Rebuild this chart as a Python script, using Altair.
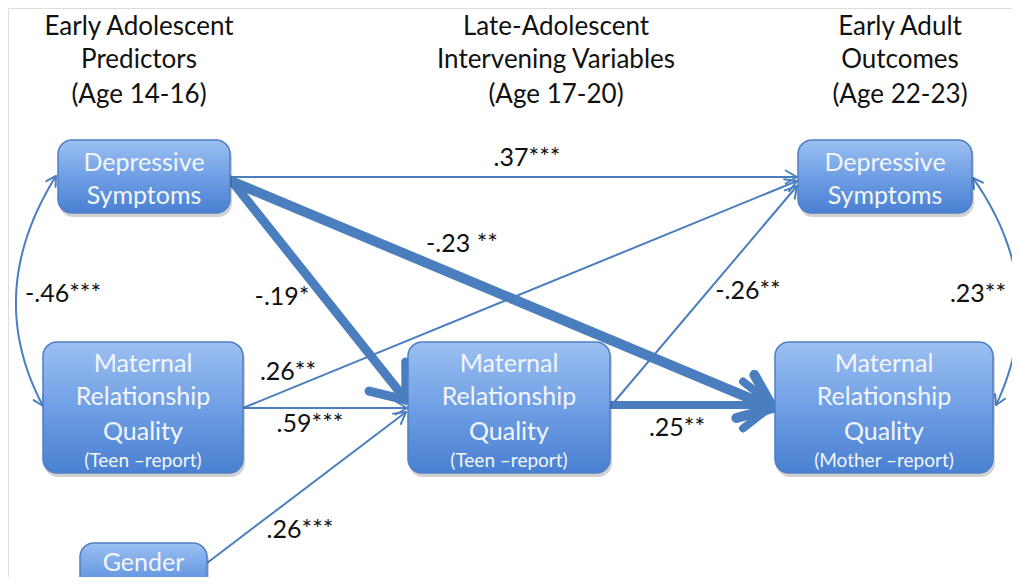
import math
import altair as alt
import pandas as pd

# ---------------- data ----------------
header_x = [139, 556, 900]
header_text = [
    ["Early Adolescent", "Predictors", "(Age 14-16)"],
    ["Late-Adolescent", "Intervening Variables", "(Age 17-20)"],
    ["Early Adult", "Outcomes", "(Age 22-23)"],
]
header_y = [27, 60, 95]

node_id = ["DS14", "MRQ14", "GEN", "MRQ17", "DS22", "MRQ22"]
node_lines = [
    ["Depressive", "Symptoms"],
    ["Maternal", "Relationship", "Quality"],
    ["Gender"],
    ["Maternal", "Relationship", "Quality"],
    ["Depressive", "Symptoms"],
    ["Maternal", "Relationship", "Quality"],
]
node_sub = ["", "(Teen \u2013report)", "", "(Teen \u2013report)", "", "(Mother \u2013report)"]

edge_from = ["DS14", "DS14", "DS14", "MRQ14", "MRQ14", "GEN", "MRQ17", "MRQ17"]
edge_to = ["DS22", "MRQ17", "MRQ22", "DS22", "MRQ17", "MRQ17", "DS22", "MRQ22"]
edge_coef = [".37***", "-.19*", "-.23 **", ".26**", ".59***", ".26***", "-.26**", ".25**"]
edge_strong = [False, True, True, False, False, False, False, True]

corr_between = [("DS14", "MRQ14"), ("DS22", "MRQ22")]
corr_coef = ["-.46***", ".23**"]

# ---------------- layout (pixel positions) ----------------
node_x0 = [58, 43, 80, 408, 798, 775]
node_x1 = [230, 243, 207, 610, 972, 993]
node_y0 = [140, 342, 543, 342, 140, 342]
node_y1 = [213, 473, 600, 473, 213, 473]
node_line_y = [[163, 196], [364, 397, 432], [563], [364, 397, 432], [163, 196], [364, 397, 432]]
node_sub_y = 461

edge_x1 = [231, 231, 231, 243, 243, 207, 610, 610]
edge_y1 = [177, 180, 181, 408, 408, 563, 407, 405]
edge_x2 = [797, 406, 773, 797, 407, 406, 797, 773]
edge_y2 = [177, 400, 408, 181, 408, 412, 186, 405]
edge_w = [2, 9, 10, 2, 2, 2, 2, 8]
label_x = [527, 282, 462, 288, 310, 300, 748, 677]
label_y = [158, 297, 244, 372, 424, 530, 291, 428]

corr_p0 = [(56, 176), (973, 178)]
corr_ctrl = [(-17, 293), (1051, 289)]
corr_p2 = [(43, 406), (996, 405)]
corr_label = [(63, 294), (978, 294)]

LINE = "#4a7ebf"
FONT = "Lato"

# ---------------- build tables ----------------
rows_seg = []  # line segments (shafts and arrowhead legs)


def head(tipx, tipy, dx, dy, length, ang, w):
    a = math.atan2(-dy, -dx)
    for s in (-1, 1):
        b = a + s * math.radians(ang)
        rows_seg.append(dict(x=tipx, y=tipy, x2=tipx + length * math.cos(b),
                             y2=tipy + length * math.sin(b), w=w))


for i in range(len(edge_from)):
    rows_seg.append(dict(x=edge_x1[i], y=edge_y1[i], x2=edge_x2[i], y2=edge_y2[i], w=edge_w[i]))
    dx = edge_x2[i] - edge_x1[i]
    dy = edge_y2[i] - edge_y1[i]
    if edge_strong[i]:
        head(edge_x2[i], edge_y2[i], dx, dy, 38, 38, edge_w[i])
    else:
        head(edge_x2[i], edge_y2[i], dx, dy, 13, 30, 2)

rows_curve = []
for k in range(len(corr_coef)):
    (x0, y0), (cx, cy), (x2, y2) = corr_p0[k], corr_ctrl[k], corr_p2[k]
    n = 60
    for j in range(n + 1):
        t = j / n
        px = (1 - t) ** 2 * x0 + 2 * (1 - t) * t * cx + t * t * x2
        py = (1 - t) ** 2 * y0 + 2 * (1 - t) * t * cy + t * t * y2
        rows_curve.append(dict(c=k, o=j, x=px, y=py))
    head(x0, y0, x0 - cx, y0 - cy, 11, 30, 2)
    head(x2, y2, x2 - cx, y2 - cy, 11, 30, 2)

seg_df = pd.DataFrame(rows_seg)
curve_df = pd.DataFrame(rows_curve)

node_df = pd.DataFrame(dict(id=node_id, x=node_x0, x2=node_x1, y=node_y0, y2=node_y1))
shadow_df = node_df.assign(x=node_df.x + 1, x2=node_df.x2 + 2, y=node_df.y + 3, y2=node_df.y2 + 4)

node_text_rows, node_sub_rows = [], []
for i in range(len(node_id)):
    cxm = (node_x0[i] + node_x1[i]) / 2
    for line, ly in zip(node_lines[i], node_line_y[i]):
        node_text_rows.append(dict(x=cxm, y=ly, t=line))
    if node_sub[i]:
        node_sub_rows.append(dict(x=cxm, y=node_sub_y, t=node_sub[i]))
node_text_df = pd.DataFrame(node_text_rows)
node_sub_df = pd.DataFrame(node_sub_rows)

header_rows = []
for hx, lines in zip(header_x, header_text):
    for line, hy in zip(lines, header_y):
        header_rows.append(dict(x=hx, y=hy, t=line))
header_df = pd.DataFrame(header_rows)

label_rows = [dict(x=label_x[i], y=label_y[i], t=edge_coef[i]) for i in range(len(edge_coef))]
label_rows += [dict(x=corr_label[k][0], y=corr_label[k][1], t=corr_coef[k]) for k in range(len(corr_coef))]
label_df = pd.DataFrame(label_rows)

# ---------------- scales ----------------
xs = alt.Scale(domain=[8, 1012], nice=False, zero=False)
ys = alt.Scale(domain=[8, 577], nice=False, zero=False, reverse=True)


def X(f):
    return alt.X(f, type="quantitative", scale=xs, axis=None)


def Y(f):
    return alt.Y(f, type="quantitative", scale=ys, axis=None)


segs = alt.Chart(seg_df).mark_rule(color=LINE, strokeCap="round").encode(
    x=X("x"), y=Y("y"), x2="x2", y2="y2",
    strokeWidth=alt.StrokeWidth("w:Q", scale=None),
)

curves = alt.Chart(curve_df).mark_line(color=LINE, strokeWidth=2).encode(
    x=X("x"), y=Y("y"), detail="c:N", order="o:Q"
)

shadows = alt.Chart(shadow_df).mark_rect(cornerRadius=14, color="#000000", opacity=0.18).encode(
    x=X("x"), x2="x2", y=Y("y"), y2="y2"
)

grad = alt.Gradient(
    gradient="linear",
    stops=[alt.GradientStop(color="#9cc0f1", offset=0),
           alt.GradientStop(color="#6f9fe4", offset=0.5),
           alt.GradientStop(color="#4a80d2", offset=1)],
    x1=0, x2=0, y1=0, y2=1,
)
boxes = alt.Chart(node_df).mark_rect(cornerRadius=14, fill=grad, stroke="#4f7fc4", strokeWidth=1.5).encode(
    x=X("x"), x2="x2", y=Y("y"), y2="y2"
)

node_text = alt.Chart(node_text_df).mark_text(font=FONT, fontSize=25, color="#f2f6fc", baseline="middle").encode(
    x=X("x"), y=Y("y"), text="t:N"
)
node_sub_text = alt.Chart(node_sub_df).mark_text(font=FONT, fontSize=19, color="#f2f6fc", baseline="middle").encode(
    x=X("x"), y=Y("y"), text="t:N"
)
headers = alt.Chart(header_df).mark_text(font=FONT, fontSize=26, color="#111111", baseline="middle").encode(
    x=X("x"), y=Y("y"), text="t:N"
)
labels = alt.Chart(label_df).mark_text(font=FONT, fontSize=25, color="#111111", baseline="middle").encode(
    x=X("x"), y=Y("y"), text="t:N"
)

chart = alt.layer(
    segs, curves, shadows, boxes, node_text, node_sub_text, headers, labels
).properties(
    width=1004, height=569, padding=0, autosize=alt.AutoSizeParams(type="none")
).configure_view(stroke="transparent", strokeWidth=0).configure(background="white")

chart.save("out.html", embed_options={"renderer": "svg", "actions": False})
